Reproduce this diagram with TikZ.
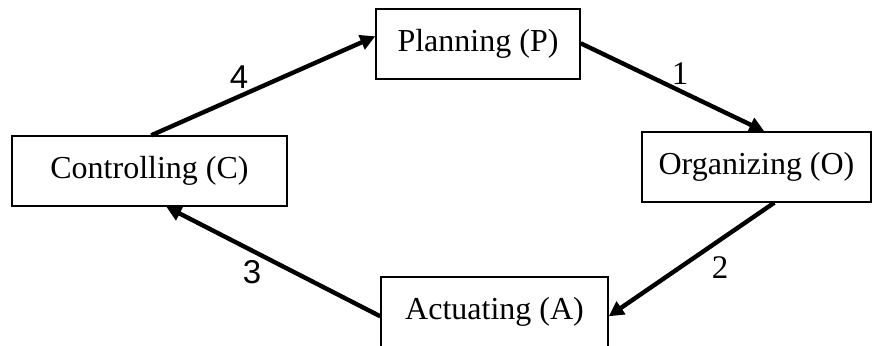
\documentclass[tikz,border=0pt]{standalone}
\usepackage{fontspec}
\setmainfont{Liberation Serif}
\newfontfamily\lsans{Liberation Sans}
\usetikzlibrary{calc,arrows.meta}
\begin{document}
\begin{tikzpicture}[x=0.5pt,y=-0.5pt,
  box/.style={draw=black,line width=0.7pt,inner sep=0pt,font=\fontsize{16}{19}\selectfont},
  conn/.style={line width=2.2pt,-{Triangle[length=7.5pt,width=7.5pt]}},
  lbl/.style={inner sep=0pt,font=\fontsize{16.5}{19}\selectfont}]
\clip (0,0) rectangle (872,346);
\fill[white] (0,0) rectangle (872,346);
\node[box,minimum width=102pt,minimum height=35pt] (P) at (478,44) {Planning (P)};
\node[box,minimum width=137.5pt,minimum height=35pt] (C) at (149.5,171) {Controlling (C)};
\node[box,minimum width=114.5pt,minimum height=35pt] (O) at (756.5,167) {Organizing (O)};
\node[box,minimum width=113.5pt,minimum height=35pt] (A) at (494.5,312) {Actuating (A)};
\coordinate (c4s) at ($(C.north west)+(140,0)$);
\coordinate (c4e) at ($(P.north west)+(0,28)$);
\coordinate (c1s) at ($(P.north east)+(0,35)$);
\coordinate (c1e) at ($(O.north west)+(123,0)$);
\coordinate (c2s) at ($(O.south west)+(133,0)$);
\coordinate (c2e) at ($(A.north east)+(0,40)$);
\coordinate (c3s) at ($(A.north west)+(0,40)$);
\coordinate (c3e) at ($(C.south west)+(155,0)$);
\draw[conn] (c4s) -- (c4e);
\draw[conn] (c1s) -- (c1e);
\draw[conn] (c2s) -- (c2e);
\draw[conn] (c3s) -- (c3e);
\node[lbl,font=\lsans\fontsize{16.5}{19}\selectfont] (l4) at (239,77) {4};
\node[lbl] (l1) at (680,74) {1};
\node[lbl] (l2) at (720,268) {2};
\node[lbl,font=\lsans\fontsize{16.5}{19}\selectfont] (l3) at (252,272) {3};
\end{tikzpicture}
\end{document}
